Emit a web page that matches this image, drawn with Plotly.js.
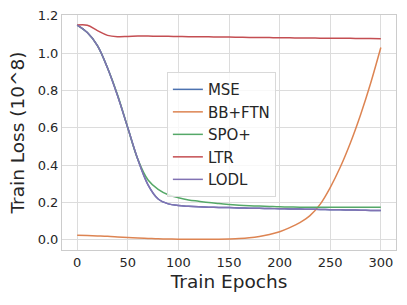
<!DOCTYPE html>
<html>
<head>
<meta charset="utf-8">
<script src="https://cdn.plot.ly/plotly-3.0.1.min.js"></script>
<style>
  html, body { margin: 0; padding: 0; background: #fff; }
  #chart { width: 407px; height: 305px; }
</style>
</head>
<body>
<div id="chart"></div>
<script>
// Loss every 10 epochs
var epochs = [0, 10, 20, 30, 40, 50, 60, 70, 80, 90, 100, 110, 120, 130, 140, 150,
              160, 170, 180, 190, 200, 210, 220, 230, 240, 250, 260, 270, 280, 290, 300];

var mse = [1.15, 1.11, 1.04, 0.92, 0.77, 0.60, 0.43, 0.295, 0.219, 0.193, 0.184, 0.180, 0.177, 0.175, 0.174, 0.173,
           0.171, 0.170, 0.169, 0.168, 0.167, 0.166, 0.165, 0.164, 0.163, 0.162, 0.161, 0.160, 0.159, 0.158, 0.157];
var bbftn = [0.025, 0.023, 0.021, 0.019, 0.016, 0.013, 0.010, 0.008, 0.006, 0.005, 0.004, 0.004, 0.004, 0.004, 0.004, 0.005,
             0.007, 0.011, 0.018, 0.029, 0.044, 0.066, 0.093, 0.13, 0.19, 0.28, 0.39, 0.52, 0.67, 0.84, 1.03];
var spo = [1.15, 1.11, 1.04, 0.92, 0.775, 0.60, 0.43, 0.321, 0.271, 0.242, 0.226, 0.214, 0.207, 0.200, 0.195, 0.190,
           0.186, 0.183, 0.181, 0.179, 0.177, 0.176, 0.175, 0.175, 0.175, 0.175, 0.175, 0.175, 0.175, 0.175, 0.175];
var ltr = [1.150, 1.149, 1.12, 1.095, 1.088, 1.089, 1.091, 1.091, 1.090, 1.090, 1.089, 1.088, 1.088, 1.087, 1.086, 1.086,
           1.085, 1.084, 1.084, 1.083, 1.082, 1.082, 1.081, 1.081, 1.080, 1.080, 1.079, 1.079, 1.078, 1.078, 1.077];
var lodl = [1.15, 1.11, 1.04, 0.92, 0.77, 0.60, 0.43, 0.295, 0.219, 0.193, 0.184, 0.180, 0.177, 0.175, 0.174, 0.173,
            0.171, 0.170, 0.169, 0.168, 0.167, 0.166, 0.165, 0.164, 0.163, 0.162, 0.161, 0.160, 0.159, 0.158, 0.157];

var names = ['MSE', 'BB+FTN', 'SPO+', 'LTR', 'LODL'];
var series = [mse, bbftn, spo, ltr, lodl];
var colors = ['#4c72b0', '#dd8452', '#55a868', '#c44e52', '#8172b3'];

var xTicks = [0, 50, 100, 150, 200, 250, 300];
var yTicks = [0.0, 0.2, 0.4, 0.6, 0.8, 1.0, 1.2];
var yTickText = ['0.0', '0.2', '0.4', '0.6', '0.8', '1.0', '1.2'];

var traces = names.map(function (name, i) {
  return {
    x: epochs,
    y: series[i],
    name: name,
    type: 'scatter',
    mode: 'lines',
    line: { color: colors[i], width: 1.5, shape: 'spline', smoothing: 1 }
  };
});

var layout = {
  width: 407,
  height: 305,
  margin: { l: 62, r: 11, t: 15, b: 55 },
  paper_bgcolor: '#ffffff',
  plot_bgcolor: '#ffffff',
  font: { family: 'DejaVu Sans, sans-serif', color: '#262626', size: 13 },
  showlegend: true,
  legend: {
    x: 0.314, y: 0.757, xanchor: 'left', yanchor: 'top',
    bgcolor: 'rgba(255,255,255,0.8)',
    bordercolor: '#d9d9d9', borderwidth: 1,
    font: { size: 15, color: '#262626' },
    tracegroupgap: 0
  },
  xaxis: {
    range: [-15, 315],
    tickvals: xTicks,
    showgrid: true, gridcolor: '#dcdcdc', gridwidth: 1,
    zeroline: false,
    showline: true, mirror: true, linecolor: '#cccccc', linewidth: 1,
    ticks: '',
    tickfont: { size: 13 },
    title: { text: 'Train Epochs', font: { size: 18.5 }, standoff: 6 }
  },
  yaxis: {
    range: [-0.054, 1.204],
    tickvals: yTicks,
    ticktext: yTickText,
    showgrid: true, gridcolor: '#dcdcdc', gridwidth: 1,
    zeroline: false,
    showline: true, mirror: true, linecolor: '#cccccc', linewidth: 1,
    ticks: '',
    tickfont: { size: 13 },
    title: { text: 'Train Loss (10^8)', font: { size: 18.5 }, standoff: 8 }
  }
};

Plotly.newPlot('chart', traces, layout, { staticPlot: true });
</script>
</body>
</html>
